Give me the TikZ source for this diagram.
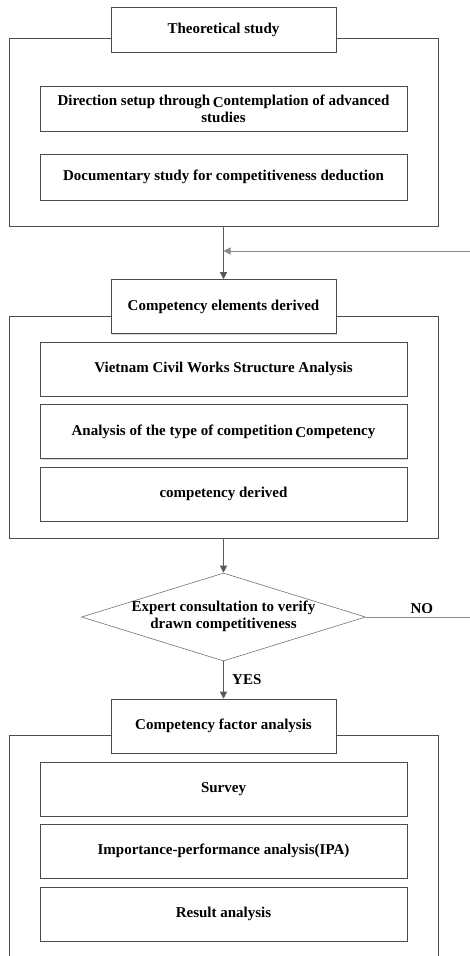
\documentclass[tikz,border=0pt]{standalone}
\usepackage{fontspec}
\setmainfont{Liberation Serif}
\usetikzlibrary{shapes.geometric,arrows.meta,shadows}

\tikzset{
  groupframe/.style={draw=black!70, semithick, fill=white, minimum width=429pt, inner sep=0pt,
    drop shadow={shadow xshift=1.2pt, shadow yshift=-1.2pt, opacity=0.3}},
  headbox/.style={draw=black!70, semithick, fill=white, minimum width=225pt, minimum height=54pt,
    font=\fontsize{15}{17}\selectfont\bfseries,
    drop shadow={shadow xshift=1.2pt, shadow yshift=-1.2pt, opacity=0.3}},
  stepbox/.style={draw=black!70, semithick, fill=white, minimum width=367pt, minimum height=54pt,
    align=center, font=\fontsize{15}{17}\selectfont\bfseries,
    drop shadow={shadow xshift=1.2pt, shadow yshift=-1.2pt, opacity=0.3}},
  decision/.style={diamond, draw=black!55, semithick, fill=white, minimum width=284pt,
    minimum height=88pt, inner sep=0pt},
  flow/.style={draw=black!65, thick, -{Triangle[length=7pt,width=7pt]}},
  loopline/.style={draw=black!45, thick},
  tag/.style={font=\fontsize{15}{17}\selectfont\bfseries}
}

\begin{document}
\begin{tikzpicture}[x=1pt, y=-1pt]
    \useasboundingbox (0,0) rectangle (470,956);
    \clip (0,0) rectangle (470,956);

    % Theoretical study
    \node[groupframe, minimum height=188pt] (theory) at (223.5,132) {};
    \node[headbox, minimum height=45pt] (theory-head) at (223.5,29.5) {Theoretical study};
    \node[stepbox, minimum height=45pt] (theory-1) at (223.5,108.5)
        {Direction setup through\,\raisebox{-2pt}{C}ontemplation of advanced\\studies};
    \node[stepbox, minimum height=46pt] (theory-2) at (223.5,177)
        {Documentary study for competitiveness deduction};

    % Competency elements derived
    \node[groupframe, minimum height=222pt] (derive) at (223.5,427) {};
    \node[headbox] (derive-head) at (223.5,306.5) {Competency elements derived};
    \foreach \y/\t [count=\i] in {369/{Vietnam Civil Works Structure Analysis},
        431.5/{Analysis of the type of competition\,\raisebox{-2pt}{C}ompetency},
        494/{competency derived}}
    {
        \node[stepbox] (derive-\i) at (223.5,\y) {\t};
    }

    % Expert check
    \node[decision,
        label={[tag, align=center, yshift=1pt]center:Expert consultation to verify\\drawn competitiveness}
    ] (check) at (223.5,617) {};

    % Competency factor analysis
    \node[groupframe, minimum height=260pt] (factor) at (223.5,865) {};
    \node[headbox] (factor-head) at (223.5,726) {Competency factor analysis};
    \foreach \y/\t [count=\i] in {789/{Survey},
        851/{Importance-performance analysis(IPA)},
        914/{Result analysis}}
    {
        \node[stepbox] (factor-\i) at (223.5,\y) {\t};
    }

    % Connectors
    \coordinate (loop-in) at (470,251);
    \coordinate (loop-out) at (470,617);
    \draw[flow] (theory.south) -- (derive-head.north);
    \draw[loopline, -{Triangle[length=7pt,width=7pt]}] (loop-in) -- (loop-in -| theory.south);
    \draw[flow] (derive.south) -- (check.north);
    \draw[flow] (check.south) -- node[tag, right, xshift=5pt]{YES} (factor-head.north);
    \draw[loopline] (check.east) -- node[tag, above, xshift=4pt]{NO} (loop-out);
\end{tikzpicture}
\end{document}
